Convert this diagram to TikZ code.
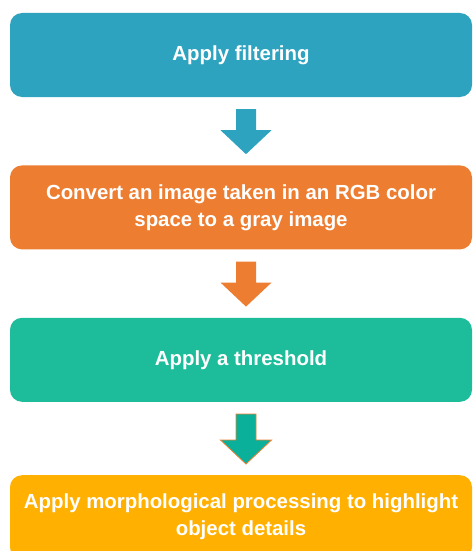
\documentclass[tikz,border=0pt]{standalone}
\usepackage{fontspec}
\setmainfont{Liberation Sans}
\usetikzlibrary{positioning,calc}
\definecolor{filterblue}{RGB}{46,163,191}
\definecolor{convorange}{RGB}{237,125,49}
\definecolor{threshgreen}{RGB}{29,189,155}
\definecolor{threshteal}{RGB}{10,176,154}
\definecolor{morphyellow}{RGB}{255,176,0}
\tikzset{
 stepbox/.style={rounded corners=12pt, minimum width=462pt, minimum height=84pt,
   inner sep=0pt, text=white, font=\bfseries\fontsize{20.4}{27}\selectfont, align=center},
}
% block arrow from box #1 down to box #2
\newcommand\flowarrow[3][]{%
 \coordinate (top) at ([xshift=5pt,yshift=-12pt]#2.south);
 \coordinate (tip) at ([xshift=5pt,yshift=11pt]#3.north);
 \fill[#1] ($(top)+(-10,0)$) -- ($(top)+(10,0)$) -- ($(tip)+(10,24)$) -- ($(tip)+(25.5,24)$)
   -- (tip) -- ($(tip)+(-25.5,24)$) -- ($(tip)+(-10,24)$) -- cycle;
}
\begin{document}
\begin{tikzpicture}[x=1pt,y=1pt]
 \useasboundingbox (0,0) rectangle (473,-551);
 \clip (0,0) rectangle (473,-551);
 \node[stepbox, fill=filterblue] (filter) at (241,-55) {Apply filtering};
 \node[stepbox, fill=convorange, below=68pt of filter] (convert)
   {Convert an image taken in an RGB color\\space to a gray image};
 \node[stepbox, fill=threshgreen, below=68pt of convert] (thresh) {Apply a threshold};
 \node[stepbox, fill=morphyellow, below=73pt of thresh] (morph)
   {Apply morphological processing to highlight\\object details};
 \flowarrow[fill=filterblue]{filter}{convert}
 \flowarrow[fill=convorange]{convert}{thresh}
 \flowarrow[fill=threshteal, draw=convorange, line width=0.8pt]{thresh}{morph}
\end{tikzpicture}
\end{document}
